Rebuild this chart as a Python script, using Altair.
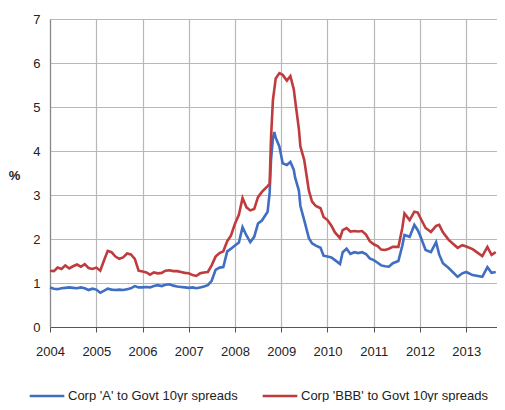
import altair as alt
import pandas as pd

dates = [
    "2004-01-01","2004-02-01","2004-03-01","2004-04-01","2004-05-01","2004-06-01",
    "2004-07-01","2004-08-01","2004-09-01","2004-10-01","2004-11-01","2004-12-01",
    "2005-01-01","2005-02-01","2005-03-01","2005-04-01","2005-05-01","2005-06-01",
    "2005-07-01","2005-08-01","2005-09-01","2005-10-01","2005-11-01","2005-12-01",
    "2006-01-01","2006-02-01","2006-03-01","2006-04-01","2006-05-01","2006-06-01",
    "2006-07-01","2006-08-01","2006-09-01","2006-10-01","2006-11-01","2006-12-01",
    "2007-01-01","2007-02-01","2007-03-01","2007-04-01","2007-05-01","2007-06-01",
    "2007-07-01","2007-08-01","2007-09-01","2007-10-01","2007-11-01","2007-12-01",
    "2008-01-01","2008-02-01","2008-03-01","2008-04-01","2008-05-01","2008-06-01",
    "2008-07-01","2008-08-01","2008-09-15","2008-10-01","2008-10-12","2008-10-27",
    "2008-11-07","2008-11-18","2008-12-17","2009-01-12","2009-02-14","2009-03-14",
    "2009-04-10","2009-04-20","2009-05-20","2009-06-01","2009-07-01","2009-08-07",
    "2009-09-01","2009-10-01","2009-11-07","2009-12-01",
    "2010-01-01","2010-02-01","2010-03-01","2010-04-10","2010-05-01","2010-06-01",
    "2010-07-01","2010-08-01","2010-09-01","2010-10-01","2010-11-01","2010-12-01",
    "2011-01-01","2011-02-01","2011-03-01","2011-04-01","2011-05-01","2011-06-01",
    "2011-07-15","2011-08-15","2011-09-01","2011-10-12","2011-11-18","2011-12-15",
    "2012-01-01","2012-02-15","2012-03-28","2012-05-08","2012-06-01","2012-07-01",
    "2012-08-15","2012-10-25","2012-12-01","2013-01-01","2013-02-20","2013-05-08",
    "2013-06-17","2013-07-20","2013-08-22",
]

corp_a = [
    0.90,0.87,0.86,0.88,0.89,0.90,0.89,0.88,0.90,0.88,0.84,0.87,
    0.85,0.78,0.82,0.87,0.85,0.84,0.85,0.84,0.86,0.88,0.93,0.90,
    0.90,0.91,0.90,0.93,0.95,0.93,0.96,0.97,0.94,0.92,0.91,0.90,
    0.89,0.90,0.88,0.90,0.92,0.95,1.05,1.30,1.35,1.36,1.72,1.78,
    1.85,1.92,2.27,2.08,1.93,2.05,2.35,2.42,2.62,3.05,3.80,4.30,
    4.43,4.30,4.10,3.72,3.68,3.75,3.57,3.40,3.10,2.75,2.43,2.02,
    1.90,1.85,1.80,1.62,
    1.60,1.58,1.52,1.43,1.70,1.78,1.66,1.70,1.68,1.70,1.66,1.56,
    1.52,1.46,1.40,1.38,1.37,1.45,
    1.50,1.85,2.09,2.05,2.32,2.20,
    2.09,1.75,1.70,1.93,1.65,1.45,
    1.34,1.14,1.22,1.25,1.18,1.14,
    1.36,1.23,1.25,
]

corp_bbb = [
    1.28,1.27,1.35,1.32,1.40,1.33,1.38,1.42,1.37,1.43,1.34,1.32,
    1.35,1.28,1.50,1.73,1.70,1.60,1.55,1.58,1.67,1.65,1.55,1.28,
    1.26,1.24,1.19,1.24,1.22,1.23,1.28,1.29,1.27,1.27,1.25,1.23,
    1.22,1.18,1.16,1.22,1.24,1.25,1.40,1.60,1.68,1.72,1.95,2.08,
    2.35,2.55,2.93,2.72,2.65,2.68,2.95,3.07,3.20,3.25,4.30,5.16,
    5.40,5.65,5.77,5.73,5.60,5.70,5.40,5.16,4.50,4.10,3.80,3.10,
    2.85,2.75,2.70,2.50,
    2.43,2.30,2.15,2.02,2.20,2.25,2.17,2.18,2.17,2.18,2.10,1.95,
    1.88,1.84,1.76,1.75,1.78,1.82,
    1.82,2.25,2.58,2.43,2.62,2.60,
    2.50,2.25,2.16,2.30,2.32,2.15,
    1.98,1.80,1.86,1.83,1.77,1.61,
    1.82,1.64,1.70,
]

series_names = ["Corp 'A' to Govt 10yr spreads", "Corp 'BBB' to Govt 10yr spreads"]
colors = ["#3F6EC2", "#BF3B3D"]

df = pd.DataFrame({"date": dates, series_names[0]: corp_a, series_names[1]: corp_bbb})
long = df.melt("date", var_name="series", value_name="value")

FONT = "Liberation Sans"

chart = alt.Chart(long).mark_line(strokeWidth=2.6).encode(
    x=alt.X("date:T",
            scale=alt.Scale(domain=["2004-01-01", "2013-09-01"]),
            axis=alt.Axis(format="%Y", tickCount={"interval": "year", "step": 1},
                          title=None, grid=True, gridColor="#b8b8b8", gridWidth=1.2,
                          domainColor="#555555", domainWidth=1.2,
                          tickColor="#555555", tickSize=5, labelPadding=13,
                          labelFlush=False,
                          labelFontSize=13, labelColor="#222222", labelFont=FONT)),
    y=alt.Y("value:Q",
            scale=alt.Scale(domain=[0, 7], nice=False),
            axis=alt.Axis(values=[0, 1, 2, 3, 4, 5, 6, 7], title="%",
                          titleAngle=0, titleFontWeight="bold", titleFontSize=13,
                          titleFont=FONT, titleColor="#222222",
                          titleX=-36, titleY=156, titleAlign="center", titleBaseline="middle",
                          grid=True, gridColor="#b8b8b8", gridWidth=1.2,
                          domainColor="#888888", domainWidth=1.2, ticks=False,
                          labelPadding=10, labelFontSize=13, labelColor="#222222",
                          labelFont=FONT)),
    color=alt.Color("series:N",
                    scale=alt.Scale(domain=series_names, range=colors),
                    legend=alt.Legend(title=None, orient="none", direction="horizontal",
                                      legendX=-22, legendY=358,
                                      symbolType="stroke", symbolStrokeWidth=2.6,
                                      symbolSize=1200, labelFontSize=13, labelFont=FONT,
                                      labelOffset=2,
                                      labelColor="#222222", columnPadding=19,
                                      labelLimit=300)),
).properties(width=447, height=308,
             autosize=alt.AutoSizeParams(type="none"),
             padding={"left": 42, "top": 11, "right": 0, "bottom": 75}
).configure_view(stroke=None)

chart.save("out.html", embed_options={"renderer": "svg", "actions": False})
